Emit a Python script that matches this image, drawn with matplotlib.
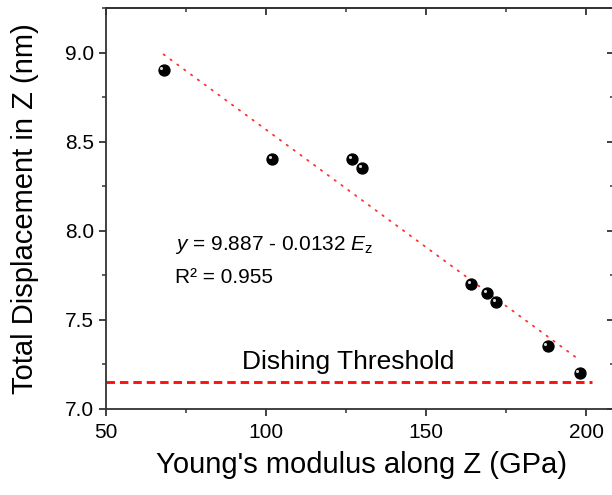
import numpy as np
import matplotlib
matplotlib.use("Agg")
import matplotlib.pyplot as plt
from matplotlib.ticker import MultipleLocator, FormatStrFormatter
from matplotlib.transforms import offset_copy

plt.rcParams['font.family'] = ['Liberation Sans', 'DejaVu Sans']
plt.rcParams['mathtext.fontset'] = 'custom'
plt.rcParams['mathtext.rm'] = 'Liberation Sans'
plt.rcParams['mathtext.it'] = 'Liberation Sans:italic'

# data
modulus = [68, 102, 127, 130, 164, 169, 172, 188, 198]
displacement = [8.90, 8.40, 8.40, 8.35, 7.70, 7.65, 7.60, 7.35, 7.20]
fit_a, fit_b = 9.887, -0.0132
threshold = 7.15
threshold_end = 202

fig = plt.figure(figsize=(6.12, 4.95), dpi=100)
# right spine sits just past the edge of the picture, as in the original crop
ax = fig.add_axes([106 / 612, 86.3 / 495, 508 / 612, 400.7 / 495])

# fitted line (dotted)
xf = np.array([modulus[0], modulus[-1]])
ax.plot(xf, fit_a + fit_b * xf, color='#ff3030', lw=1.3,
        dashes=(0.8, 3.9), dash_capstyle='round', zorder=2)

# threshold
ax.plot([50, threshold_end], [threshold, threshold], color='#ff1010', lw=2.1,
        dashes=(2.9, 1.7), zorder=2)

# sphere-like markers
ax.scatter(modulus, displacement, s=62, color='black', zorder=3)
hl = offset_copy(ax.transData, fig=fig, x=-1.6, y=1.6, units='points')
ax.scatter(modulus, displacement, s=5, color='#d8d8d8', transform=hl, zorder=4,
           linewidths=0)

ax.text(71.6, 7.89, r'$\it{y}$ = 9.887 - 0.0132 $\it{E}_\mathrm{z}$', fontsize=15,
        va='baseline', ha='left', color='black')
ax.text(71.6, 7.705, 'R² = 0.955', fontsize=15, va='baseline', ha='left',
        color='black')
ax.text(92.5, 7.223, 'Dishing Threshold', fontsize=19, va='baseline', ha='left',
        color='black')

ax.set_xlim(50, 50 + 508 / 3.2)
ax.set_ylim(7.0, 9.25)
ax.xaxis.set_major_locator(MultipleLocator(50))
ax.xaxis.set_minor_locator(MultipleLocator(25))
ax.yaxis.set_major_locator(MultipleLocator(0.5))
ax.yaxis.set_minor_locator(MultipleLocator(0.25))
ax.yaxis.set_major_formatter(FormatStrFormatter('%.1f'))

for s in ax.spines.values():
    s.set_linewidth(1.3)
    s.set_color('#333333')

ax.tick_params(which='major', direction='out', length=5, width=1.3,
               color='#333333', labelsize=15, labelcolor='black')
ax.tick_params(which='minor', direction='out', length=3, width=1.1, color='#333333')
ax.tick_params(axis='x', pad=5)
ax.tick_params(axis='y', pad=3.5)

# mirrored ticks on top and right pointing inward
top = ax.secondary_xaxis('top')
top.xaxis.set_major_locator(MultipleLocator(50))
top.xaxis.set_minor_locator(MultipleLocator(25))
top.tick_params(which='major', direction='in', length=5, width=1.3, color='#333333',
                labeltop=False)
top.tick_params(which='minor', direction='in', length=3, width=1.1, color='#333333')
right = ax.secondary_yaxis('right')
right.yaxis.set_major_locator(MultipleLocator(0.5))
right.yaxis.set_minor_locator(MultipleLocator(0.25))
right.tick_params(which='major', direction='in', length=5, width=1.3, color='#333333',
                  labelright=False)
right.tick_params(which='minor', direction='in', length=3, width=1.1, color='#333333')
for sec in (top, right):
    for s in sec.spines.values():
        s.set_linewidth(1.3)
        s.set_color('#333333')

ax.set_xlabel("Young's modulus along Z (GPa)", fontsize=21, va='center', color='black')
ax.xaxis.set_label_coords(256 / 508, -56.3 / 400.7)
ax.set_ylabel('Total Displacement in Z (nm)', fontsize=21, va='center', color='black')
ax.yaxis.set_label_coords(-81 / 508, 0.5)

fig.savefig('out.png', dpi=100)
